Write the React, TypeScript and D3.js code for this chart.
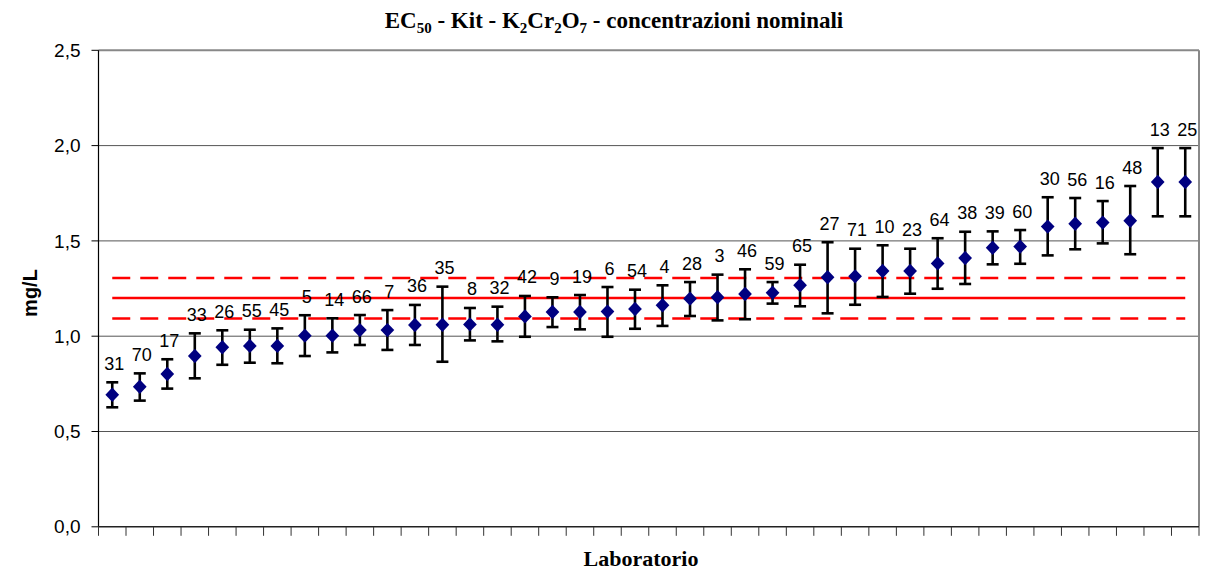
import React from "react";
import * as d3 from "d3";

const labs = ["31","70","17","33","26","55","45","5","14","66","7","36","35","8","32","42","9","19","6","54","4","28","3","46","59","65","27","71","10","23","64","38","39","60","30","56","16","48","13","25"];
const ec50 = [0.693,0.735,0.802,0.896,0.942,0.949,0.949,1.003,1.003,1.032,1.032,1.059,1.060,1.062,1.060,1.104,1.127,1.127,1.129,1.143,1.162,1.197,1.204,1.221,1.228,1.267,1.309,1.314,1.342,1.342,1.382,1.410,1.464,1.470,1.575,1.590,1.596,1.606,1.809,1.809];
const upperCI = [0.758,0.805,0.879,1.015,1.031,1.034,1.041,1.110,1.094,1.111,1.137,1.164,1.260,1.148,1.155,1.211,1.204,1.216,1.258,1.244,1.267,1.284,1.323,1.351,1.284,1.375,1.493,1.459,1.477,1.459,1.514,1.548,1.550,1.557,1.729,1.725,1.709,1.788,1.987,1.987];
const lowerCI = [0.627,0.662,0.725,0.779,0.850,0.861,0.858,0.896,0.915,0.954,0.928,0.954,0.866,0.978,0.973,0.997,1.048,1.036,0.997,1.039,1.054,1.106,1.083,1.089,1.171,1.157,1.120,1.165,1.206,1.223,1.249,1.274,1.377,1.380,1.424,1.456,1.487,1.430,1.629,1.629];
const refMean = 1.2;
const refHigh = 1.305;
const refLow = 1.093;
const yTicks = [0, 0.5, 1.0, 1.5, 2.0, 2.5];

const W = 1213, H = 572;
const left = 98.5, right = 1199, top = 50.3, bottom = 526.8;

export default function App() {
  const x = d3.scaleBand<string>().domain(labs).range([left, right]).padding(0);
  const y = d3.scaleLinear().domain([0, 2.5]).range([bottom, top]);
  const bw = x.bandwidth();
  const cx = (l: string) => (x(l) as number) + bw / 2;
  const fmt = (v: number) => d3.format(".1f")(v).replace(".", ",");
  const x0 = cx(labs[0]);
  const x1 = cx(labs[labs.length - 1]);
  const diamond = d3.symbol().type(d3.symbolDiamond2).size(120);
  const tickEdges = labs.map((l) => x(l) as number).concat([right]);

  return (
    <svg width={W} height={H} style={{ position: "absolute", left: 0, top: 0, background: "#fff" }}>
      {/* title */}
      <text x={614} y={27.5} textAnchor="middle" fontFamily="'Liberation Serif', 'Times New Roman', serif" fontWeight="bold" fontSize={23}>
        EC<tspan fontSize={15} dy={5}>50</tspan>
        <tspan dy={-5}> - Kit - K</tspan>
        <tspan fontSize={15} dy={5}>2</tspan>
        <tspan dy={-5}>Cr</tspan>
        <tspan fontSize={15} dy={5}>2</tspan>
        <tspan dy={-5}>O</tspan>
        <tspan fontSize={15} dy={5}>7</tspan>
        <tspan dy={-5}> - concentrazioni nominali</tspan>
      </text>

      {/* gridlines */}
      {yTicks.filter((t) => t > 0 && t < 2.5).map((t) => (
        <line key={"g" + t} x1={left} x2={right} y1={y(t)} y2={y(t)} stroke="#555" strokeWidth={1} />
      ))}
      {/* plot border top & right */}
      <line x1={left} x2={right} y1={y(2.5)} y2={y(2.5)} stroke="#888" strokeWidth={2} />
      <line x1={right} x2={right} y1={top} y2={bottom} stroke="#888" strokeWidth={2} />

      {/* axes */}
      <line x1={left} x2={left} y1={top} y2={bottom} stroke="#000" strokeWidth={1.2} />
      <line x1={left} x2={right} y1={bottom} y2={bottom} stroke="#222" strokeWidth={1.5} />
      {yTicks.map((t) => (
        <g key={"yt" + t}>
          <line x1={left - 7} x2={left} y1={y(t)} y2={y(t)} stroke="#000" strokeWidth={1} />
          <text x={left - 18} y={y(t)} dy="0.35em" textAnchor="end" fontFamily="'Liberation Sans', Arial, sans-serif" fontSize={19}>{fmt(t)}</text>
        </g>
      ))}
      {tickEdges.map((e, i) => (
        <line key={"xt" + i} x1={e} x2={e} y1={bottom} y2={bottom + 9} stroke="#333" strokeWidth={1} />
      ))}

      {/* reference lines */}
      <line x1={x0} x2={x1} y1={y(refHigh)} y2={y(refHigh)} stroke="#ff0000" strokeWidth={2.5} strokeDasharray="18 10" />
      <line x1={x0} x2={x1} y1={y(refMean)} y2={y(refMean)} stroke="#ff0000" strokeWidth={2.5} />
      <line x1={x0} x2={x1} y1={y(refLow)} y2={y(refLow)} stroke="#ff0000" strokeWidth={2.5} strokeDasharray="18 10" />

      {/* error bars and points */}
      {labs.map((l, i) => {
        const c = cx(l);
        return (
          <g key={"p" + l}>
            <line x1={c} x2={c} y1={y(upperCI[i])} y2={y(lowerCI[i])} stroke="#000" strokeWidth={2.6} />
            <line x1={c - 6} x2={c + 6} y1={y(upperCI[i])} y2={y(upperCI[i])} stroke="#000" strokeWidth={2.6} />
            <line x1={c - 6} x2={c + 6} y1={y(lowerCI[i])} y2={y(lowerCI[i])} stroke="#000" strokeWidth={2.6} />
            <path d={diamond() as string} transform={`translate(${c},${y(ec50[i])}) scale(1,1.05)`} fill="#000080" />
            <text x={c + 2} y={y(upperCI[i]) - 12.5} textAnchor="middle" fontFamily="'Liberation Sans', Arial, sans-serif" fontSize={18}>{l}</text>
          </g>
        );
      })}

      {/* axis titles */}
      <text transform={`translate(37,293) rotate(-90)`} textAnchor="middle" fontFamily="'Liberation Sans', Arial, sans-serif" fontWeight="bold" fontSize={20}>mg/L</text>
      <text x={641} y={566} textAnchor="middle" fontFamily="'Liberation Serif', 'Times New Roman', serif" fontWeight="bold" fontSize={22}>Laboratorio</text>
    </svg>
  );
}
